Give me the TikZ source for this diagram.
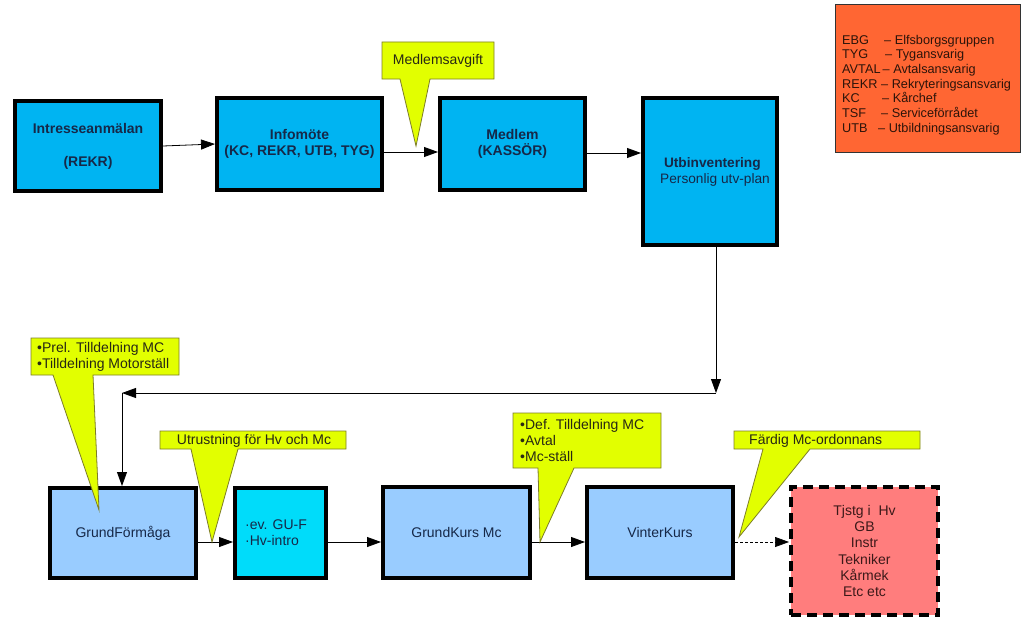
\documentclass[tikz,border=0pt]{standalone}
\usepackage{fontspec}
\setmainfont{Liberation Sans}
\usetikzlibrary{arrows.meta}
\definecolor{topblue}{RGB}{0,180,242}
\definecolor{lightblue}{RGB}{153,204,255}
\definecolor{cyanbox}{RGB}{0,220,250}
\definecolor{navy}{RGB}{22,40,72}
\definecolor{cyellow}{RGB}{226,255,0}
\definecolor{cborder}{RGB}{125,125,40}
\definecolor{ctext}{RGB}{40,40,20}
\definecolor{legorange}{RGB}{255,102,51}
\definecolor{legtext}{RGB}{45,20,10}
\definecolor{redbox}{RGB}{255,125,125}
\definecolor{redtext}{RGB}{60,25,25}
\tikzset{
  box/.style={draw=black, line width=4pt, text=navy, align=center, inner sep=0pt,
    font=\fontsize{14}{16}\selectfont},
  topbox/.style={box, fill=topblue},
  lowbox/.style={box, fill=lightblue},
  arr/.style={-{Triangle[length=14pt,width=10pt]}, line width=0.8pt, draw=black},
  callout/.style={draw=cborder, fill=cyellow, line width=0.8pt, line join=miter},
  ctxt/.style={text=ctext, align=left, inner sep=0pt, font=\fontsize{14}{16}\selectfont},
}
\begin{document}
\begin{tikzpicture}[x=1pt,y=-1pt]
\useasboundingbox (0,0) rectangle (1024,626);
\fill[white] (0,0) rectangle (1024,626);

% legend
\node[draw=black!80, line width=0.8pt, fill=legorange, minimum width=185pt, minimum height=148pt,
  inner sep=0pt] (legend) at (927.5,78.5) {};
\node[anchor=west, align=left, inner sep=0pt, text=legtext, font=\fontsize{12.7}{14.7}\selectfont]
  (legtxt) at (842,85) {%
  \makebox[42pt][l]{EBG}– Elfsborgsgruppen\\
  \makebox[43pt][l]{TYG}– Tygansvarig\\
  \makebox[40.5pt][l]{AVTAL}– Avtalsansvarig\\
  \makebox[39pt][l]{REKR}– Rekryteringsansvarig\\
  \makebox[40pt][l]{KC}– Kårchef\\
  \makebox[39pt][l]{TSF}– Serviceförrådet\\
  \makebox[36pt][l]{UTB}– Utbildningsansvarig};

% top row
\node[topbox, font=\fontsize{14}{16}\selectfont\bfseries, minimum width=146pt, minimum height=90pt]
  (intr) at (88,146) {Intresseanmälan\\[17pt](REKR)};
\node[topbox, font=\fontsize{14}{16}\selectfont\bfseries, minimum width=165pt, minimum height=92pt]
  (info) at (299.5,144) {Infomöte\\(KC, REKR, UTB, TYG)};
\node[topbox, font=\fontsize{14}{16}\selectfont\bfseries, minimum width=145pt, minimum height=92pt]
  (medlem) at (512.5,144) {Medlem\\(KASSÖR)};
\node[topbox, minimum width=134pt, minimum height=147pt] (utb) at (710,171.5) {};
\node[anchor=west, align=left, inner sep=0pt, text=navy, font=\fontsize{13.7}{16}\selectfont]
  (utbtxt) at (660,172) {{\bfseries\ Utbinventering}\\Personlig utv-plan};

% bottom row
\node[lowbox, minimum width=146pt, minimum height=90pt] (gf) at (123,533) {GrundFörmåga};
\node[box, fill=cyanbox, minimum width=91pt, minimum height=90pt] (ev) at (280.5,533) {};
\node[anchor=west, align=left, inner sep=0pt, text=navy, font=\fontsize{14}{16}\selectfont]
  (evtxt) at (245,533) {·ev. GU-F\\·Hv-intro};
\node[lowbox, minimum width=147pt, minimum height=91pt] (gk) at (456.5,532.5) {GrundKurs Mc};
\node[lowbox, minimum width=146pt, minimum height=91pt] (vk) at (660,532.5) {VinterKurs};
\node[draw=black, line width=4pt, dash pattern=on 10pt off 6pt, fill=redbox, text=redtext,
  align=center, inner sep=0pt, minimum width=147pt, minimum height=128pt,
  font=\fontsize{14}{16.2}\selectfont] (red) at (864.5,551)
  {Tjstg i\ \ Hv\\GB\\Instr\\Tekniker\\Kårmek\\Etc etc};

% connectors
\draw[arr] (intr.east) -- (info.west);
\draw[arr] ([yshift=-8pt]info.east) -- ([yshift=-8pt]medlem.west);
\draw[arr] ([yshift=-9pt]medlem.east) -- ([yshift=-9pt]medlem.east -| utb.west);
\coordinate (c1) at (716,393);
\coordinate (c2) at (122,393);
\draw[arr] (utb.south -| c1) -- (c1);
\draw[arr] (c1) -- (c2);
\draw[arr] (c2) -- (gf.north -| c2);
\draw[arr] ([yshift=-9pt]gf.east) -- ([yshift=-9pt]gf.east -| ev.west);
\draw[arr] ([yshift=-9pt]ev.east) -- ([yshift=-9pt]ev.east -| gk.west);
\draw[arr] ([yshift=-9.5pt]gk.east) -- ([yshift=-9.5pt]gk.east -| vk.west);
\draw[arr, line width=0.7pt, dash pattern=on 3pt off 2pt] ([yshift=-9.5pt]vk.east) -- ([yshift=-9.5pt]vk.east -| red.west);

% callouts
\draw[callout] (382,42) -- (494,42) -- (494,79) -- (430,79) -- (416,146) -- (400,79) -- (382,79) -- cycle;
\node[ctxt] (c-medl) at (438,61) {Medlemsavgift};

\draw[callout] (31,338) -- (179,338) -- (179,375) -- (93,375) -- (99,510) -- (53,375) -- (31,375) -- cycle;
\node[ctxt, anchor=west] (c-prel) at (37,357) {•Prel. Tilldelning MC\\•Tilldelning Motorställ};

\draw[callout] (160,431) -- (346,431) -- (346,449) -- (238,449) -- (212,542) -- (191,449) -- (160,449) -- cycle;
\node[ctxt] (c-utr) at (254,440.5) {Utrustning för Hv och Mc};

\draw[callout] (513,413) -- (661,413) -- (661,468) -- (574,468) -- (540,542) -- (538,468) -- (513,468) -- cycle;
\node[ctxt, anchor=west] (c-def) at (520,440.5) {•Def. Tilldelning MC\\•Avtal\\•Mc-ställ};

\draw[callout] (734,431) -- (920,431) -- (920,449) -- (810,449) -- (739,537) -- (763,449) -- (734,449) -- cycle;
\node[ctxt, anchor=west] (c-fard) at (749,440.5) {Färdig Mc-ordonnans};
\end{tikzpicture}
\end{document}
